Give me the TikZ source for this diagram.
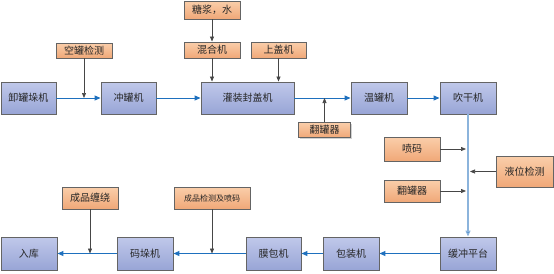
\documentclass[tikz,border=0pt]{standalone}
\usepackage{fontspec}
\newfontfamily\cjk{Noto Sans CJK SC}
\usetikzlibrary{arrows.meta,shadows}
\definecolor{btop}{RGB}{192,200,234}
\definecolor{bbot}{RGB}{152,165,214}
\definecolor{otop}{RGB}{250,206,170}
\definecolor{obot}{RGB}{240,168,120}
\definecolor{edge}{RGB}{100,100,100}
\definecolor{flow}{RGB}{30,112,190}
\definecolor{flowlight}{RGB}{140,180,220}
\definecolor{aux}{RGB}{70,70,70}
\tikzset{
  base/.style={draw=edge, line width=0.9pt, inner sep=0pt, font=\cjk\fontsize{10}{10}\selectfont, text=black!85,
    drop shadow={shadow xshift=1.2pt, shadow yshift=-1.2pt, fill=black!30, opacity=0.6}},
  bluebox/.style={base, top color=btop, bottom color=bbot, minimum width=55pt, minimum height=32pt},
  orangebox/.style={base, top color=otop, bottom color=obot, minimum width=56pt, minimum height=16pt},
  mainflow/.style={draw=flow, line width=1pt, -{Triangle[length=6pt,width=5pt]}},
  lightflow/.style={draw=flowlight, line width=1.2pt, -{Triangle[length=6pt,width=5pt,fill=flow]}},
  auxflow/.style={draw=aux, line width=0.7pt, -{Triangle[length=5pt,width=4pt]}}
}
\begin{document}
\begin{tikzpicture}[x=1pt,y=-1pt]
\useasboundingbox (0,0) rectangle (554,273);
% blue process boxes
\node[bluebox] (a1) at (28.5,98) {卸罐垛机};
\node[bluebox] (a2) at (128.5,98) {冲罐机};
\node[bluebox, minimum width=93pt] (a3) at (247.5,98) {灌装封盖机};
\node[bluebox, minimum width=56pt] (a4) at (379,98) {温罐机};
\node[bluebox, minimum width=56pt] (a5) at (468,98) {吹干机};
\node[bluebox, minimum width=56pt, minimum height=33pt] (b1) at (468,253.5) {缓冲平台};
\node[bluebox, minimum width=56pt, minimum height=33pt] (b2) at (351,253.5) {包装机};
\node[bluebox, minimum height=33pt] (b3) at (273.5,253.5) {膜包机};
\node[bluebox, minimum width=56pt, minimum height=33pt] (b4) at (145,253.5) {码垛机};
\node[bluebox, minimum width=56pt, minimum height=33pt] (b5) at (29,253.5) {入库};
% orange auxiliary boxes
\node[orangebox, minimum height=18pt] (o1) at (212,10) {糖浆，水};
\node[orangebox, minimum height=15pt] (o2) at (84,50.5) {空罐检测};
\node[orangebox] (o3) at (212,50) {混合机};
\node[orangebox, minimum width=55pt] (o4) at (278.5,50) {上盖机};
\node[orangebox, minimum width=52pt, minimum height=15pt] (o5) at (324.5,130) {翻罐器};
\node[orangebox, minimum height=24pt] (o6) at (412,149) {喷码};
\node[orangebox, minimum width=57pt, minimum height=31pt] (o7) at (524.5,171.5) {液位检测};
\node[orangebox, minimum height=22pt] (o8) at (412,191) {翻罐器};
\node[orangebox, minimum height=22pt] (o9) at (90,198) {成品缠绕};
\node[orangebox, minimum width=76pt, minimum height=22pt, font=\cjk\fontsize{8}{8}\selectfont] (o10) at (212,198) {成品检测及喷码};
% junction coordinates
\coordinate (j1) at (84,98);
\coordinate (j2) at (324.5,98);
\coordinate (j3) at (466,149);
\coordinate (j4) at (470,171.5);
\coordinate (j5) at (466,191);
\coordinate (j6) at (212,253.5);
\coordinate (j7) at (90,253.5);
% main flow
\draw[mainflow] (a1) -- (a2);
\draw[mainflow] (a2) -- (a3);
\draw[mainflow] (a3) -- (a4);
\draw[mainflow] (a4) -- (a5);
\draw[lightflow] (a5) -- (b1);
\draw[mainflow] (b1) -- (b2);
\draw[mainflow] (b2) -- (b3);
\draw[mainflow] (b3) -- (b4);
\draw[mainflow] (b4) -- (b5);
% auxiliary inputs
\draw[auxflow] (o2) -- (j1);
\draw[auxflow] (o1) -- (o3);
\draw[auxflow] (o3) -- (o3 |- a3.north);
\draw[auxflow] (o4) -- (o4 |- a3.north);
\draw[auxflow] (o5) -- (j2);
\draw[auxflow] (o6) -- (j3);
\draw[auxflow] (o7) -- (j4);
\draw[auxflow] (o8) -- (j5);
\draw[auxflow] (o10) -- (j6);
\draw[auxflow] (o9) -- (j7);
\end{tikzpicture}
\end{document}
